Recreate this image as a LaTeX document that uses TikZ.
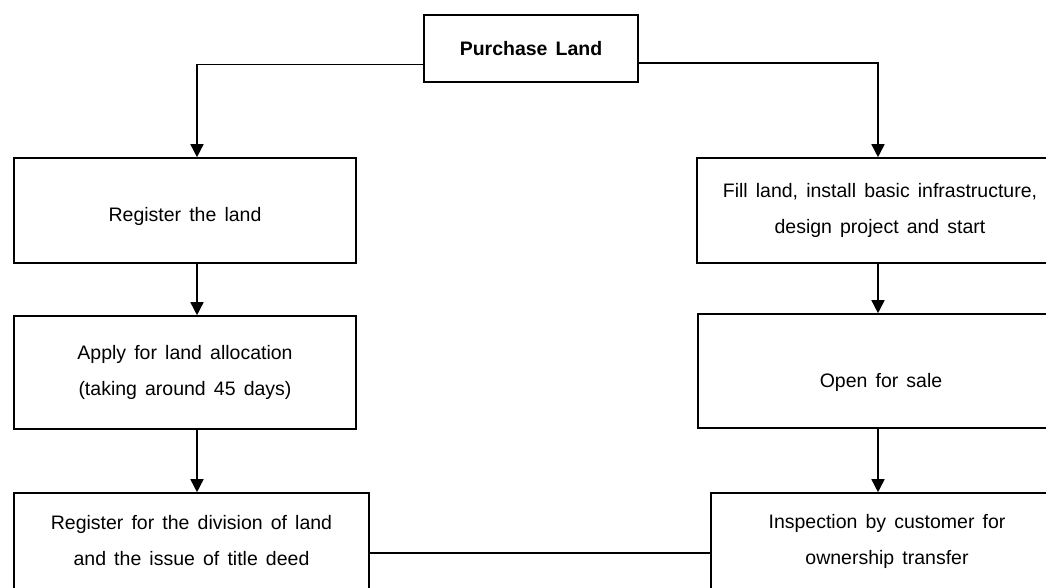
\documentclass[tikz,border=0pt]{standalone}
\usepackage{fontspec}
\setmainfont{Liberation Sans}[WordSpace=1.5]
\usepackage{tikz}
\usetikzlibrary{arrows.meta,positioning,calc}
\tikzstyle{stepbox}=[rectangle,draw=black,line width=1.6pt,align=center,inner sep=0pt,font=\fontsize{19.5}{36}\selectfont]
\tikzstyle{plain}=[]
\tikzstyle{lowtext}=[text height=26pt,text depth=4pt]
\tikzstyle{lowertext}=[text height=36pt,text depth=4pt]
\tikzstyle{edge} = [draw,line width=1.5pt,-{Triangle[length=13pt,width=13pt]}]
\tikzstyle{undirectededge} = [draw,line width=1.5pt]

\begin{document}
\begin{tikzpicture}[x=1pt,y=-1pt]

  \path[use as bounding box,clip] (0,0) rectangle (1046,587);

  \coordinate (colL) at (197,0);
  \coordinate (colR) at (878,0);

  % top box
  \node[stepbox,minimum width=214pt,minimum height=67pt,font=\fontsize{19.5}{36}\selectfont\bfseries] (buy) at (531,48.5) {Purchase Land};

  % left column
  \foreach \x/\y/\w/\h/\name/\opt/\label in {185/210.5/342/105/reg/lowtext/{Register the land},
        185/372.5/342/113/app/plain/{Apply for land allocation\\(taking around 45 days)},
        191.5/541/355/96/div/plain/{Register for the division of land\\and the issue of title deed}}
         \node[stepbox,minimum width=\w pt,minimum height=\h pt,\opt] (\name) at (\x,\y) {\label};

  % right column
  \foreach \x/\y/\w/\h/\name/\opt/\label in {880/210.5/366/105/fill/plain/{Fill land, install basic infrastructure,\\design project and start},
        881/371/366/114/sale/lowertext/{Open for sale},
        887/541/352/96/insp/plain/{Inspection by customer for\\ownership transfer}}
         \node[stepbox,minimum width=\w pt,minimum height=\h pt,\opt] (\name) at (\x,\y) {\label};

  \path[edge] ([yshift=-16pt]buy.west) -| (reg.north -| colL);
  \path[edge] ([yshift=-14.5pt]buy.east) -| (fill.north -| colR);

  \foreach \source/ \dest /\col in {reg/app/colL, app/div/colL, fill/sale/colR, sale/insp/colR}
         \path[edge] (\source.south -| \col) -- (\dest.north -| \col);

  \path[undirectededge] ([yshift=-12pt]div.east) -- ([yshift=-12pt]insp.west);

\end{tikzpicture}
\end{document}
